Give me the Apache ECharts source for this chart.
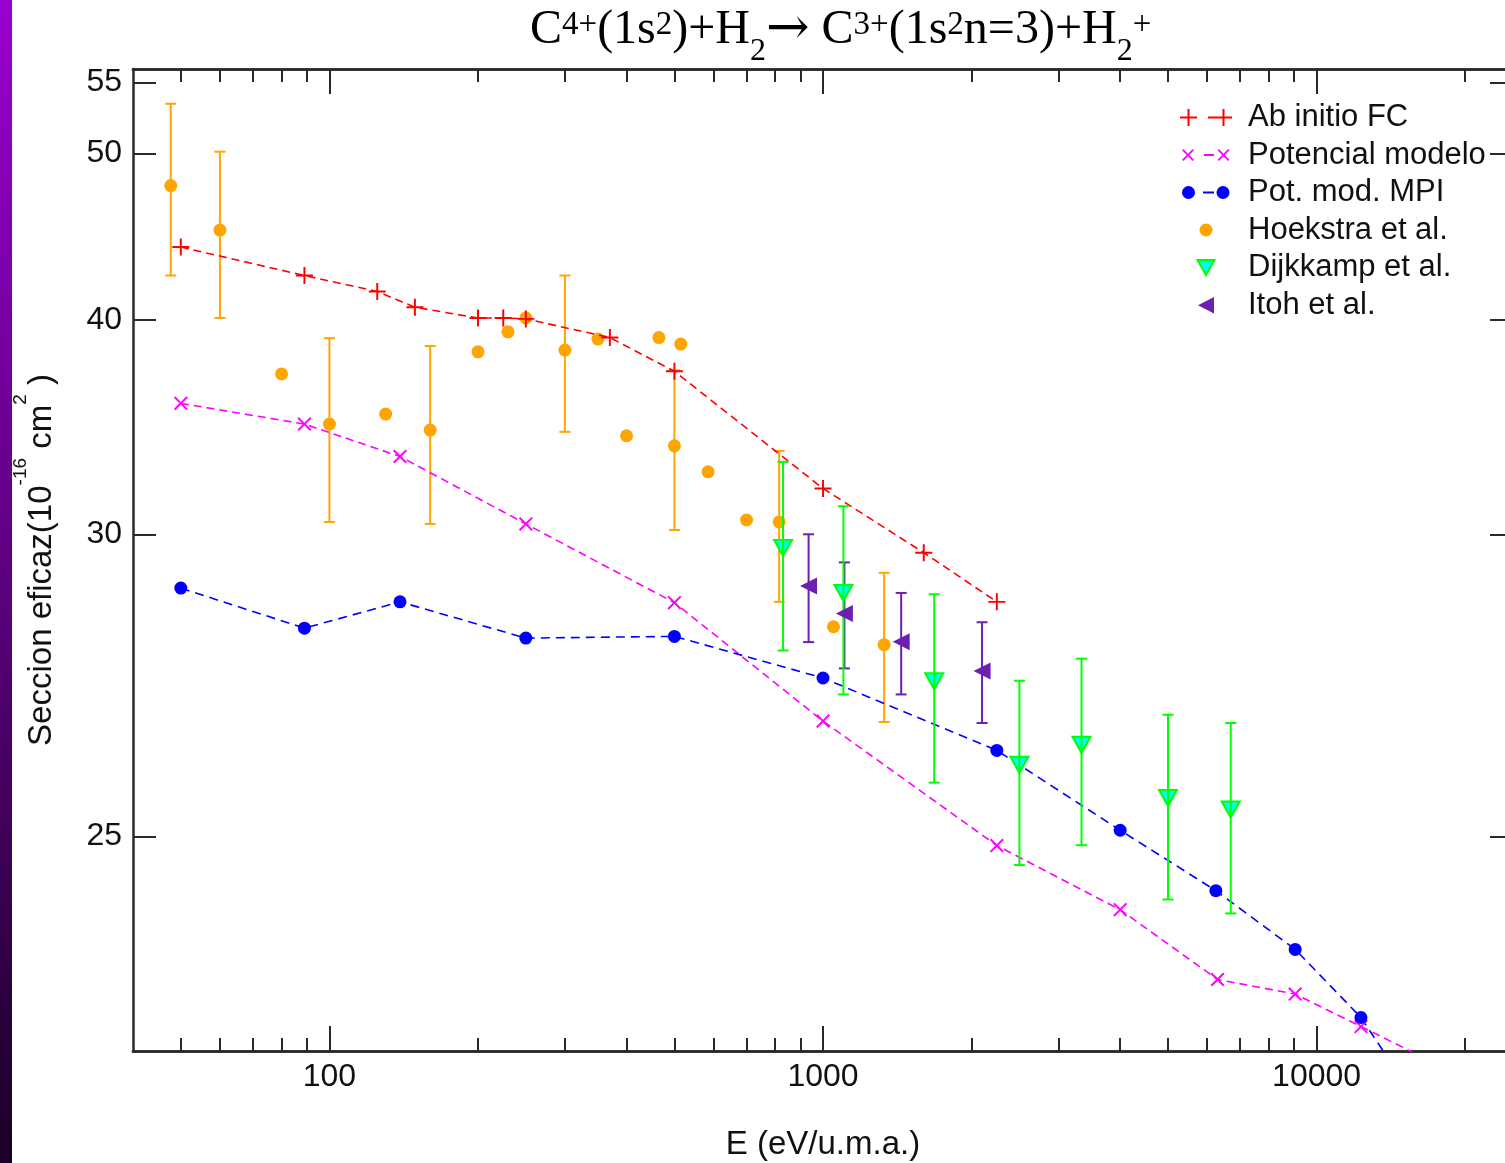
<!DOCTYPE html>
<html>
<head>
<meta charset="utf-8">
<script src="https://cdn.jsdelivr.net/npm/echarts@6/dist/echarts.min.js"></script>
<style>
html,body{margin:0;padding:0;background:#ffffff;}
#chart{width:1505px;height:1163px;}
</style>
</head>
<body>
<div id="chart"></div>
<script>
// ---------- tick labels ----------
const xTickMajor = [100, 1000, 10000];
const xTickMinor = [50, 60, 70, 80, 90, 200, 300, 400, 500, 600, 700, 800, 900,
                    2000, 3000, 4000, 5000, 6000, 7000, 8000, 9000, 20000];
const yTickValues = [20, 30, 40, 50, 55];
const yTickLabels = ['25', '30', '40', '50', '55'];

// ---------- Ab initio FC ----------
const abInitioE = [50, 89, 125, 149, 200, 225, 250, 370, 500, 1000, 1600, 2250];
const abInitioS = [44.1, 42.45, 41.55, 40.68, 40.1, 40.1, 40.05, 39.06, 37.33, 31.9, 29.27, 27.4];

// ---------- Potencial modelo ----------
const potModE = [50, 89, 139, 250, 500, 1000, 2250, 4000, 6300, 9050, 12300, 18000];
const potModS = [35.76, 34.78, 33.3, 30.42, 27.37, 23.35, 19.76, 18.13, 16.51, 16.19, 15.5, 14.68];

// ---------- Pot. mod. MPI ----------
const mpiE = [50, 89, 139, 250, 500, 1000, 2250, 4000, 6250, 9050, 12300, 16000];
const mpiS = [27.91, 26.45, 27.4, 26.1, 26.16, 24.74, 22.45, 20.17, 18.6, 17.19, 15.69, 14.0];

// ---------- Hoekstra et al. ----------
const hoekE  = [47.7, 60, 80, 100, 130, 160, 200, 230, 250, 300, 350, 400, 465, 500, 515, 585, 700, 815, 1050, 1330];
const hoekS  = [47.89, 45.12, 37.2, 34.78, 35.25, 34.5, 38.32, 39.36, 40.1, 38.41, 38.98, 34.24, 39.06, 33.78, 38.72, 32.62, 30.58, 30.5, 26.5, 25.87];
const hoekLo = [42.45, 40.1, null, 30.5, null, 30.42, null, null, null, 34.42, null, null, null, 30.17, null, null, null, 27.4, null, 23.32];
const hoekHi = [53.45, 50.12, null, 39.03, null, 38.62, null, null, null, 42.45, null, null, null, 37.38, null, null, null, 33.55, null, 28.49];

// ---------- Dijkkamp et al. ----------
const dijE  = [830, 1100, 1680, 2500, 3340, 5000, 6700];
const dijS  = [29.46, 27.73, 24.63, 22.02, 22.62, 21.06, 20.74];
const dijLo = [25.67, 24.2, 21.5, 19.25, 19.77, 18.38, 18.04];
const dijHi = [33.06, 31.15, 27.68, 24.65, 25.39, 23.55, 23.29];

// ---------- Itoh et al. ----------
const itohE  = [935, 1105, 1440, 2100];
const itohS  = [27.99, 26.98, 25.97, 24.97];
const itohLo = [25.96, 25.06, 24.2, 23.29];
const itohHi = [30.0, 28.89, 27.73, 26.66];

// ---------- helpers ----------
const zip = (xs, ys) => xs.map((x, i) => [x, ys[i]]);
const errRows = (xs, lo, hi) => xs.map((x, i) => [x, lo[i], hi[i]]).filter(r => r[1] != null && r[2] != null);

const C_RED = '#ff0000', C_MAG = '#ff00ff', C_BLUE = '#0000ff', C_ORANGE = '#ffa500',
      C_GREEN = '#00ff00', C_CYAN = '#00ffee', C_PURPLE = '#6c1fb0', C_AXIS = '#2a2a2a';

function plusPath(cx, cy, a, t) {
  return `M${cx-t},${cy-a}L${cx+t},${cy-a}L${cx+t},${cy-t}L${cx+a},${cy-t}L${cx+a},${cy+t}L${cx+t},${cy+t}L${cx+t},${cy+a}L${cx-t},${cy+a}L${cx-t},${cy+t}L${cx-a},${cy+t}L${cx-a},${cy-t}L${cx-t},${cy-t}Z`;
}
function crossPath(cx, cy, a, t) {
  const pts = [[-t,-a],[t,-a],[t,-t],[a,-t],[a,t],[t,t],[t,a],[-t,a],[-t,t],[-a,t],[-a,-t],[-t,-t]];
  const c = Math.SQRT1_2;
  return 'M' + pts.map(p => `${(cx + (p[0] - p[1]) * c).toFixed(2)},${(cy + (p[0] + p[1]) * c).toFixed(2)}`).join('L') + 'Z';
}
function circlePath(cx, cy, r) {
  return `M${cx-r},${cy}A${r},${r},0,1,0,${cx+r},${cy}A${r},${r},0,1,0,${cx-r},${cy}Z`;
}
function rectPath(x, y, w, h) { return `M${x},${y}L${x+w},${y}L${x+w},${y+h}L${x},${y+h}Z`; }
const LW = 64, LH = 18;
const corners = `M0,0L0.001,0ZM${LW},${LH}L${LW-0.001},${LH}Z`;

const SYM_PLUS = 'path://' + plusPath(10, 10, 10, 1.15);
const SYM_CROSS = 'path://' + crossPath(10, 10, 10, 1.1);
const SYM_TRI_DOWN = 'path://M0,0L20,0L10,18Z';
const SYM_TRI_LEFT = 'path://M20,0L20,20L0,10Z';

const ICON_RED = 'path://' + corners + plusPath(9.5, 9, 8.5, 1) + rectPath(29, 8, 10, 2) + plusPath(44.5, 9, 8.5, 1);
const ICON_MAG = 'path://' + corners + crossPath(9, 9, 7.5, 0.9) + rectPath(25, 8, 10, 2) + crossPath(44.5, 9, 7.5, 0.9);
const ICON_BLUE = 'path://' + corners + circlePath(9.5, 9, 6.5) + rectPath(24, 8, 11, 2) + circlePath(44, 9, 6.5);
const ICON_ORANGE = 'path://' + corners + circlePath(27, 9, 6.5);
const ICON_GREEN = 'path://' + corners + 'M18.5,1.5L35.5,1.5L27,16.5Z';
const ICON_PURPLE = 'path://' + corners + 'M35,1L35,17.5L19,9.25Z';

function errorBar(color) {
  return function (params, api) {
    const x = api.value(0);
    const pLo = api.coord([x, api.value(1)]);
    const pHi = api.coord([x, api.value(2)]);
    const w = 5.5;
    const st = { stroke: color, lineWidth: 2 };
    return {
      type: 'group',
      children: [
        { type: 'line', shape: { x1: pLo[0], y1: pLo[1], x2: pHi[0], y2: pHi[1] }, style: st },
        { type: 'line', shape: { x1: pLo[0] - w, y1: pLo[1], x2: pLo[0] + w, y2: pLo[1] }, style: st },
        { type: 'line', shape: { x1: pHi[0] - w, y1: pHi[1], x2: pHi[0] + w, y2: pHi[1] }, style: st }
      ]
    };
  };
}

const SANS = "'Liberation Sans', Arial, Helvetica, sans-serif";
const SERIF = "'Liberation Serif', 'Times New Roman', serif";
const X_MIN = 40, X_MAX = 25000, Y_MIN = 15, Y_MAX = 56;

function xAxisCfg(position, ticks, len, main) {
  return {
    type: 'log', logBase: 10, min: X_MIN, max: X_MAX, position: position,
    axisLine: { show: true, onZero: false, lineStyle: { color: C_AXIS, width: 2.5 } },
    axisTick: { show: true, inside: true, length: len, customValues: ticks, lineStyle: { color: C_AXIS, width: 2 } },
    axisLabel: { show: main, customValues: xTickMajor, formatter: v => String(Math.round(v)),
                 fontSize: 32, color: '#111', fontFamily: SANS, margin: 10 },
    splitLine: { show: false }, minorTick: { show: false }, minorSplitLine: { show: false },
    name: main ? 'E (eV/u.m.a.)' : '', nameLocation: 'middle', nameGap: 77,
    nameTextStyle: { fontSize: 33, color: '#111', fontFamily: SANS }
  };
}
function yAxisCfg(position, main) {
  return {
    type: 'log', logBase: 10, min: Y_MIN, max: Y_MAX, position: position,
    axisLine: { show: true, onZero: false, lineStyle: { color: C_AXIS, width: 2.5 } },
    axisTick: { show: true, inside: true, length: 23, customValues: yTickValues, lineStyle: { color: C_AXIS, width: 2 } },
    axisLabel: { show: main, customValues: yTickValues,
                 formatter: v => { const i = yTickValues.indexOf(Math.round(v)); return i >= 0 ? yTickLabels[i] : ''; },
                 fontSize: 32, color: '#111', fontFamily: SANS, margin: 11 },
    splitLine: { show: false }, minorTick: { show: false }, minorSplitLine: { show: false },
    name: main ? '{n|Seccion eficaz(10}{s|-16}{n| cm}{s|2}{n| )}' : '',
    nameLocation: 'middle', nameGap: 61, nameRotate: 90,
    nameTextStyle: {
      color: '#111', fontFamily: SANS,
      rich: {
        n: { fontSize: 33, lineHeight: 60, height: 60, fontFamily: SANS, color: '#111' },
        s: { fontSize: 19, height: 18, verticalAlign: 'top', fontFamily: SANS, color: '#111' }
      }
    }
  };
}

const chart = echarts.init(document.getElementById('chart'), null, { renderer: 'canvas' });
chart.setOption({
  animation: false,
  backgroundColor: '#ffffff',
  graphic: [{
    type: 'rect', left: 0, top: 0, z: 100,
    shape: { width: 12, height: 1163 },
    style: { fill: { type: 'linear', x: 0, y: 0, x2: 0, y2: 1,
      colorStops: [{ offset: 0, color: '#9a00cf' }, { offset: 0.5, color: '#5c007e' }, { offset: 1, color: '#1a0026' }] } }
  }],
  title: {
    text: '{m|C}{sup|4+}{m|(1s}{sup|2}{m|)+H}{sub|2}{arr|\u2192}{m| C}{sup|3+}{m|(1s}{sup|2}{m|n=3)+H}{sub|2}{sup|+}',
    left: 530, top: 0, padding: 0,
    textStyle: {
      fontFamily: SERIF, color: '#000', fontWeight: 'normal',
      rich: {
        m: { fontFamily: SERIF, fontSize: 48, fontWeight: 'normal', lineHeight: 60, height: 60, color: '#000' },
        arr: { fontFamily: "'DejaVu Serif', serif", fontSize: 52, fontWeight: 'normal', height: 60, color: '#000' },
        sup: { fontFamily: SERIF, fontSize: 33, fontWeight: 'normal', height: 50, verticalAlign: 'top', color: '#000' },
        sub: { fontFamily: SERIF, fontSize: 32, fontWeight: 'normal', height: 16, verticalAlign: 'bottom', color: '#000' }
      }
    }
  },
  grid: { left: 133, top: 69, width: 1380, height: 982, containLabel: false, outerBoundsMode: 'none' },
  legend: {
    orient: 'vertical', left: 1178, top: 102, padding: 0,
    itemWidth: LW, itemHeight: LH, itemGap: 6.5, selectedMode: false,
    textStyle: { fontSize: 31, color: '#111', fontFamily: SANS },
    data: [
      { name: 'Ab initio FC', icon: ICON_RED, itemStyle: { color: C_RED, borderWidth: 0 } },
      { name: 'Potencial modelo', icon: ICON_MAG, itemStyle: { color: C_MAG, borderWidth: 0 } },
      { name: 'Pot. mod. MPI', icon: ICON_BLUE, itemStyle: { color: C_BLUE, borderWidth: 0 } },
      { name: 'Hoekstra et al.', icon: ICON_ORANGE, itemStyle: { color: C_ORANGE, borderWidth: 0 } },
      { name: 'Dijkkamp et al.', icon: ICON_GREEN, itemStyle: { color: C_CYAN, borderColor: C_GREEN, borderWidth: 2 } },
      { name: 'Itoh et al.', icon: ICON_PURPLE, itemStyle: { color: C_PURPLE, borderWidth: 0 } }
    ]
  },
  xAxis: [
    xAxisCfg('bottom', xTickMajor, 25, true),
    xAxisCfg('top', xTickMajor, 25, false),
    xAxisCfg('bottom', xTickMinor, 13, false),
    xAxisCfg('top', xTickMinor, 13, false)
  ],
  yAxis: [
    yAxisCfg('left', true),
    yAxisCfg('right', false)
  ],
  series: [
    { name: 'Ab initio FC', type: 'line', data: zip(abInitioE, abInitioS),
      symbol: SYM_PLUS, symbolSize: 17, itemStyle: { color: C_RED, borderWidth: 0 },
      lineStyle: { color: C_RED, width: 1.6, type: [8, 5] }, z: 5 },
    { name: 'Potencial modelo', type: 'line', data: zip(potModE, potModS),
      symbol: SYM_CROSS, symbolSize: 14, itemStyle: { color: C_MAG, borderWidth: 0 },
      lineStyle: { color: C_MAG, width: 1.6, type: [8, 5] }, z: 5 },
    { name: 'Pot. mod. MPI', type: 'line', data: zip(mpiE, mpiS),
      symbol: 'circle', symbolSize: 13, itemStyle: { color: C_BLUE, borderWidth: 0 },
      lineStyle: { color: C_BLUE, width: 1.6, type: [9, 6] }, z: 5 },
    { name: 'Hoekstra err', type: 'custom', renderItem: errorBar(C_ORANGE),
      data: errRows(hoekE, hoekLo, hoekHi), encode: { x: 0, y: [1, 2] }, z: 3, silent: true },
    { name: 'Hoekstra et al.', type: 'scatter', data: zip(hoekE, hoekS),
      symbol: 'circle', symbolSize: 13, itemStyle: { color: C_ORANGE, borderWidth: 0, opacity: 1 }, z: 4 },
    { name: 'Dijkkamp et al.', type: 'scatter', data: zip(dijE, dijS),
      symbol: SYM_TRI_DOWN, symbolSize: [18, 16], itemStyle: { color: C_CYAN, borderColor: C_GREEN, borderWidth: 2, opacity: 1 }, z: 6 },
    { name: 'Dijkkamp err', type: 'custom', renderItem: errorBar(C_GREEN),
      data: errRows(dijE, dijLo, dijHi), encode: { x: 0, y: [1, 2] }, z: 7, silent: true },
    { name: 'Itoh err', type: 'custom', renderItem: errorBar(C_PURPLE),
      data: errRows(itohE, itohLo, itohHi), encode: { x: 0, y: [1, 2] }, z: 6, silent: true },
    { name: 'Itoh et al.', type: 'scatter', data: zip(itohE, itohS),
      symbol: SYM_TRI_LEFT, symbolSize: [17, 17], itemStyle: { color: C_PURPLE, borderWidth: 0, opacity: 1 }, z: 7 }
  ]
});
</script>
</body>
</html>
